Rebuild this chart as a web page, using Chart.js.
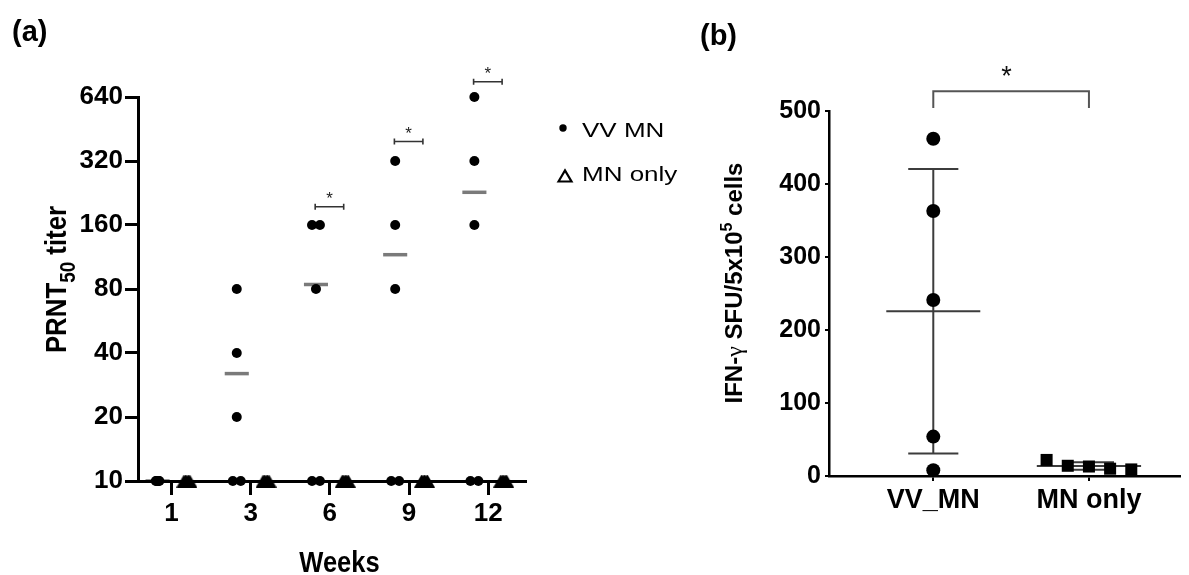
<!DOCTYPE html>
<html>
<head>
<meta charset="utf-8">
<script src="https://cdn.jsdelivr.net/npm/chart.js@4/dist/chart.umd.min.js"></script>
<style>
  html, body { margin: 0; padding: 0; background: #fff; }
  #wrap { position: relative; width: 1189px; height: 575px; overflow: hidden; background: #fff; }
  #wrap canvas { position: absolute; top: 0; }
  #cA { left: 0; }
  #cB { left: 690px; }
</style>
</head>
<body>
<div id="wrap">
  <canvas id="cA" width="700" height="575"></canvas>
  <canvas id="cB" width="499" height="575"></canvas>
</div>
<script>
// ---- Panel (a): PRNT50 neutralising titers over time ----
const weeks = ['1', '3', '6', '9', '12'];
const titerTicks = [10, 20, 40, 80, 160, 320, 640];
const vvMnTiters = [
  [10, 10, 10, 10, 10],
  [80, 40, 20, 10, 10],
  [160, 160, 80, 10, 10],
  [320, 160, 80, 10, 10],
  [640, 320, 160, 10, 10]
];
const mnOnlyTiters = [
  [10, 10, 10, 10, 10],
  [10, 10, 10, 10, 10],
  [10, 10, 10, 10, 10],
  [10, 10, 10, 10, 10],
  [10, 10, 10, 10, 10]
];

// ---- Panel (b): IFN-gamma ELISpot ----
const groups = ['VV_MN', 'MN only'];
const ifnTicks = [0, 100, 200, 300, 400, 500];
const ifnVvMn = [462, 363, 241, 54, 8];
const ifnMnOnly = [22, 14, 13, 10, 9];

// ---- helpers ----
const SANS = "'Liberation Sans', Arial, sans-serif";

const mean = a => a.reduce((s, v) => s + v, 0) / a.length;
const sd = a => {
  const m = mean(a);
  return Math.sqrt(a.reduce((s, v) => s + (v - m) * (v - m), 0) / (a.length - 1));
};

// Lay tied values side by side around a column centre
function spreadTies(values, center, widthFor) {
  const counts = {};
  values.forEach(v => { counts[v] = (counts[v] || 0) + 1; });
  const seen = {};
  return values.map(v => {
    const n = counts[v];
    const k = seen[v] = (seen[v] || 0) + 1;
    if (n < 2) return { x: center, y: v };
    const w = widthFor(n);
    return { x: center - w / 2 + (k - 1) * w / (n - 1), y: v };
  });
}

// Draw a run of text pieces along one baseline, each with its own font and shift
function drawRuns(ctx, runs, cx, baseline, squeeze) {
  let total = 0;
  runs.forEach(r => { ctx.font = r.font; r.w = ctx.measureText(r.text).width; total += r.w; });
  ctx.save();
  ctx.translate(cx, baseline);
  ctx.scale(squeeze || 1, 1);
  let x = -total / 2;
  ctx.textAlign = 'left';
  ctx.textBaseline = 'alphabetic';
  runs.forEach(r => { ctx.font = r.font; ctx.fillText(r.text, x, r.dy || 0); x += r.w; });
  ctx.restore();
}

// Solid triangle marker whose bounding box is centred on the value
function triangleMarker(w, h) {
  const c = document.createElement('canvas');
  c.width = w; c.height = h;
  const g = c.getContext('2d');
  g.fillStyle = '#000';
  g.beginPath();
  g.moveTo(w / 2, 0); g.lineTo(w, h); g.lineTo(0, h); g.closePath();
  g.fill();
  return c;
}

// column offsets of the two groups inside each week slot
const VV_OFF = -0.175;
const MN_OFF = 0.195;

const vvPoints = weeks.flatMap((w, i) =>
  spreadTies(vvMnTiters[i], i + VV_OFF, n => (n === 2 ? 0.1 : 0.045)));
const mnPoints = weeks.flatMap((w, i) =>
  spreadTies(mnOnlyTiters[i], i + MN_OFF, () => 0.075));

const panelAPlugin = {
  id: 'panelA',
  beforeDraw(chart) {
    // group means (gray bars), beneath the axes
    const { ctx, scales: { x, y } } = chart;
    ctx.save();
    ctx.strokeStyle = '#7a7a7a';
    ctx.lineWidth = 3.5;
    weeks.forEach((w, i) => {
      const m = mean(vvMnTiters[i]);
      const py = y.getPixelForValue(m);
      ctx.beginPath();
      ctx.moveTo(x.getPixelForValue(i + VV_OFF - 0.152), py);
      ctx.lineTo(x.getPixelForValue(i + VV_OFF + 0.152), py);
      ctx.stroke();
    });
    ctx.restore();
  },
  afterDraw(chart, args, opts) {
    const { ctx, scales: { x, y } } = chart;
    ctx.save();
    // significance brackets
    opts.brackets.forEach(b => {
      const i = weeks.indexOf(b.week);
      const x1 = x.getPixelForValue(i - 0.185);
      const x2 = x.getPixelForValue(i + 0.175);
      const py = y.getPixelForValue(b.at);
      ctx.strokeStyle = '#333';
      ctx.lineWidth = 1.6;
      ctx.beginPath();
      ctx.moveTo(x1, py); ctx.lineTo(x2, py);
      ctx.moveTo(x1, py - 3); ctx.lineTo(x1, py + 3);
      ctx.moveTo(x2, py - 3); ctx.lineTo(x2, py + 3);
      ctx.stroke();
      ctx.fillStyle = '#222';
      ctx.font = '17px ' + SANS;
      ctx.textAlign = 'center';
      ctx.textBaseline = 'alphabetic';
      ctx.fillText('*', (x1 + x2) / 2, py - 3);
    });

    ctx.fillStyle = '#000';
    // panel letter
    ctx.font = 'bold 29px ' + SANS;
    ctx.textAlign = 'left';
    ctx.textBaseline = 'alphabetic';
    ctx.fillText('(a)', 12, 41);

    // x-axis title
    drawRuns(ctx, [{ text: 'Weeks', font: 'bold 30px ' + SANS }], 339.5, 572, 0.85);

    // y-axis title with subscript
    ctx.save();
    ctx.translate(66, 279.5);
    ctx.rotate(-Math.PI / 2);
    drawRuns(ctx, [
      { text: 'PRNT', font: 'bold 30px ' + SANS },
      { text: '50', font: 'bold 22px ' + SANS, dy: 9 },
      { text: ' titer', font: 'bold 30px ' + SANS }
    ], 0, 0, 0.86);
    ctx.restore();

    // legend
    ctx.beginPath();
    ctx.arc(563, 128, 3.7, 0, Math.PI * 2);
    ctx.fill();
    ctx.strokeStyle = '#000';
    ctx.lineWidth = 2.2;
    ctx.lineJoin = 'miter';
    ctx.beginPath();
    ctx.moveTo(558.5, 181.5); ctx.lineTo(565, 170.5); ctx.lineTo(571.5, 181.5); ctx.closePath();
    ctx.stroke();
    ctx.font = '20px ' + SANS;
    ctx.textAlign = 'left';
    [['VV MN', 137], ['MN only', 180.5]].forEach(([t, by]) => {
      ctx.save();
      ctx.translate(582, by);
      ctx.scale(1.3, 1);
      ctx.fillText(t, 0, 0);
      ctx.restore();
    });
    ctx.restore();
  }
};

const tickFontA = { family: SANS, size: 26, weight: 'bold' };

new Chart(document.getElementById('cA'), {
  type: 'scatter',
  data: {
    datasets: [
      {
        label: 'VV MN', data: vvPoints, pointStyle: 'circle', pointRadius: 5, pointHoverRadius: 5,
        backgroundColor: '#000', borderColor: '#000', borderWidth: 0, clip: false
      },
      {
        label: 'MN only', data: mnPoints, pointStyle: triangleMarker(15, 13),
        backgroundColor: '#000', borderColor: '#000', borderWidth: 0, clip: false
      }
    ]
  },
  options: {
    responsive: false, animation: false, devicePixelRatio: 1,
    layout: { padding: { left: 0, top: 97, right: 175, bottom: 0 } },
    plugins: {
      legend: { display: false }, tooltip: { enabled: false },
      panelA: { brackets: [{ week: '6', at: 195 }, { week: '9', at: 395 }, { week: '12', at: 755 }] }
    },
    scales: {
      x: {
        type: 'linear', min: -0.422, max: 4.464,
        afterBuildTicks: s => { s.ticks = weeks.map((w, i) => ({ value: i })); },
        afterFit: s => { s.height = 94; },
        ticks: { callback: v => weeks[v], color: '#000', padding: 3, maxRotation: 0, autoSkip: false, font: tickFontA },
        grid: { display: true, drawOnChartArea: false, drawTicks: true, lineWidth: 3, tickWidth: 3, tickLength: 14, tickColor: '#000', color: '#000' },
        border: { display: true, color: '#000', width: 3 }
      },
      y: {
        type: 'logarithmic', min: 10, max: 640,
        afterBuildTicks: s => { s.ticks = titerTicks.map(v => ({ value: v })); },
        afterFit: s => { s.width = 138; },
        ticks: { callback: v => String(v), color: '#000', padding: 2, autoSkip: false, font: tickFontA },
        grid: { display: true, drawOnChartArea: false, drawTicks: true, lineWidth: 3, tickWidth: 3, tickLength: 13, tickColor: '#000', color: '#000' },
        border: { display: true, color: '#000', width: 3 }
      }
    }
  },
  plugins: [panelAPlugin]
});

// ---- Panel (b) ----
const vvPointsB = ifnVvMn.map(v => ({ x: 0, y: v }));
const mnPointsB = ifnMnOnly.map((v, k) => ({ x: 1 + (k - (ifnMnOnly.length - 1) / 2) * 0.136, y: v }));

const panelBPlugin = {
  id: 'panelB',
  beforeDatasetsDraw(chart) {
    // mean with SD whiskers for each group
    const { ctx, scales: { x, y } } = chart;
    ctx.save();
    ctx.strokeStyle = '#3c3c3c';
    ctx.lineWidth = 2;
    [[ifnVvMn, 0, 0.302], [ifnMnOnly, 1, 0.335]].forEach(([vals, gx, halfMean]) => {
      const m = mean(vals), s = sd(vals);
      const px = x.getPixelForValue(gx);
      const pm = y.getPixelForValue(m), pt = y.getPixelForValue(m + s), pb = y.getPixelForValue(m - s);
      const capL = x.getPixelForValue(gx - 0.161), capR = x.getPixelForValue(gx + 0.161);
      ctx.beginPath();
      ctx.moveTo(x.getPixelForValue(gx - halfMean), pm); ctx.lineTo(x.getPixelForValue(gx + halfMean), pm);
      ctx.moveTo(px, pt); ctx.lineTo(px, pb);
      ctx.moveTo(capL, pt); ctx.lineTo(capR, pt);
      ctx.moveTo(capL, pb); ctx.lineTo(capR, pb);
      ctx.stroke();
    });
    ctx.restore();
  },
  afterDraw(chart) {
    const { ctx, scales: { x, y } } = chart;
    ctx.save();
    // significance bracket between the two groups
    const x1 = x.getPixelForValue(0), x2 = x.getPixelForValue(1);
    const top = y.getPixelForValue(527), foot = y.getPixelForValue(504);
    ctx.strokeStyle = '#555';
    ctx.lineWidth = 2;
    ctx.beginPath();
    ctx.moveTo(x1, foot); ctx.lineTo(x1, top); ctx.lineTo(x2, top); ctx.lineTo(x2, foot);
    ctx.stroke();
    ctx.fillStyle = '#111';
    ctx.font = '27px ' + SANS;
    ctx.textAlign = 'center';
    ctx.textBaseline = 'alphabetic';
    ctx.fillText('*', x.getPixelForValue(0.47), top - 6);

    // panel letter
    ctx.fillStyle = '#000';
    ctx.font = 'bold 29px ' + SANS;
    ctx.textAlign = 'left';
    ctx.fillText('(b)', 10, 45);

    // y-axis title
    ctx.save();
    ctx.translate(51.7, 283);
    ctx.rotate(-Math.PI / 2);
    drawRuns(ctx, [
      { text: 'IFN-', font: 'bold 24px ' + SANS },
      { text: 'γ', font: '24px "Liberation Serif", serif' },
      { text: ' SFU/5x10', font: 'bold 24px ' + SANS },
      { text: '5', font: 'bold 16px ' + SANS, dy: -10 },
      { text: ' cells', font: 'bold 24px ' + SANS }
    ], 0, 0);
    ctx.restore();
    ctx.restore();
  }
};

new Chart(document.getElementById('cB'), {
  type: 'scatter',
  data: {
    datasets: [
      {
        label: 'VV_MN', data: vvPointsB, pointStyle: 'circle', pointRadius: 7, pointHoverRadius: 7,
        backgroundColor: '#000', borderColor: '#000', borderWidth: 0, clip: false
      },
      {
        label: 'MN only', data: mnPointsB, pointStyle: 'rect', pointRadius: 8.5, pointHoverRadius: 8.5,
        backgroundColor: '#000', borderColor: '#000', borderWidth: 0, clip: false
      }
    ]
  },
  options: {
    responsive: false, animation: false, devicePixelRatio: 1,
    layout: { padding: { left: 0, top: 111, right: 9, bottom: 0 } },
    plugins: { legend: { display: false }, tooltip: { enabled: false } },
    scales: {
      x: {
        type: 'linear', min: -0.67, max: 1.585,
        afterBuildTicks: s => { s.ticks = groups.map((g, i) => ({ value: i })); },
        afterFit: s => { s.height = 99; },
        ticks: {
          callback: v => groups[v], color: '#000', padding: 3, maxRotation: 0, autoSkip: false,
          font: { family: SANS, size: 27, weight: 'bold' }
        },
        grid: { display: true, drawOnChartArea: false, drawTicks: true, lineWidth: 2, tickWidth: 2, tickLength: 5, tickColor: '#000', color: '#000' },
        border: { display: true, color: '#000', width: 2.5 }
      },
      y: {
        type: 'linear', min: 0, max: 500,
        afterBuildTicks: s => { s.ticks = ifnTicks.map(v => ({ value: v })); },
        afterFit: s => { s.width = 139; },
        ticks: {
          callback: v => String(v), color: '#000', padding: 4, autoSkip: false,
          font: { family: SANS, size: 25, weight: 'bold' }
        },
        grid: { display: true, drawOnChartArea: false, drawTicks: true, lineWidth: 2, tickWidth: 2, tickLength: 4, tickColor: '#000', color: '#000' },
        border: { display: true, color: '#000', width: 2.5 }
      }
    }
  },
  plugins: [panelBPlugin]
});
</script>
</body>
</html>
